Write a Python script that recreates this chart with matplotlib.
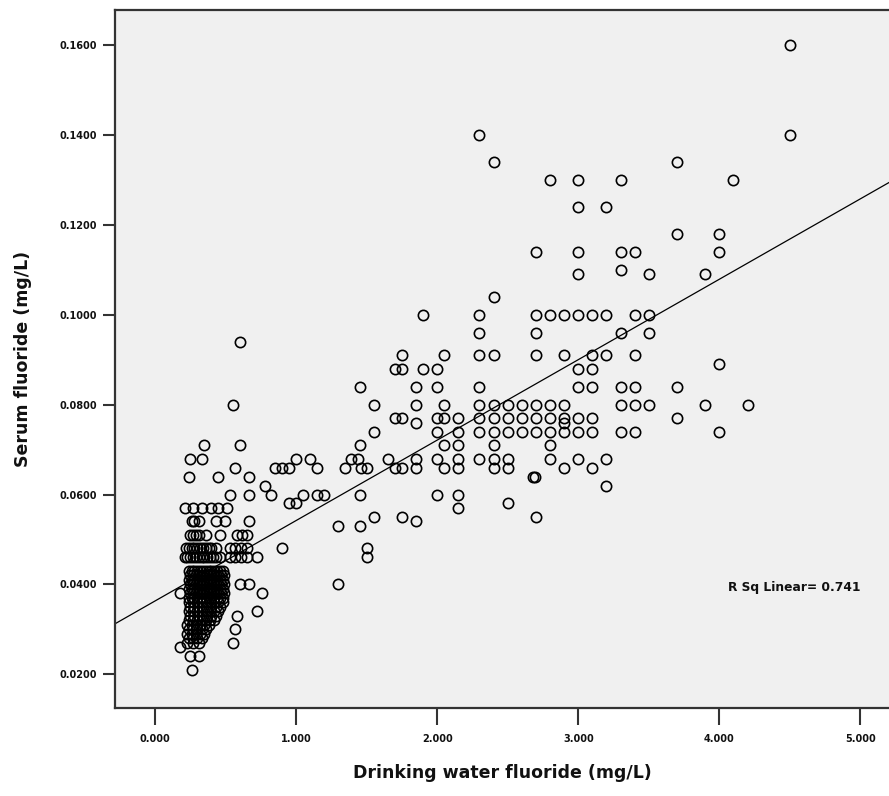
import matplotlib
matplotlib.use("Agg")
import matplotlib.pyplot as plt
import numpy as np

# Serum fluoride levels (mg/L) and the drinking-water fluoride values (mg/L) observed at each level
serum_levels = [0.160, 0.140, 0.134, 0.130, 0.124, 0.118, 0.114, 0.110, 0.109, 0.104,
                0.100, 0.096, 0.094, 0.091, 0.089, 0.088, 0.084, 0.080, 0.077, 0.076,
                0.074, 0.071, 0.068, 0.066, 0.064, 0.062, 0.060, 0.058, 0.057, 0.055,
                0.054, 0.053, 0.051, 0.048, 0.046, 0.043, 0.042, 0.041, 0.040, 0.039,
                0.038, 0.037, 0.036, 0.035, 0.034, 0.033, 0.032, 0.031, 0.030, 0.029,
                0.028, 0.027, 0.026, 0.024, 0.021]

water_at_level = [
    [4.5],
    [2.3, 4.5],
    [2.4, 3.7],
    [2.8, 3.0, 3.3, 4.1],
    [3.0, 3.2],
    [3.7, 4.0],
    [2.7, 3.0, 3.3, 3.4, 4.0],
    [3.3],
    [3.0, 3.5, 3.9],
    [2.4],
    [1.9, 2.3, 2.7, 2.8, 2.9, 3.0, 3.1, 3.2, 3.4, 3.5],
    [2.3, 2.7, 3.3, 3.5],
    [0.6],
    [1.75, 2.05, 2.3, 2.4, 2.7, 2.9, 3.1, 3.2, 3.4],
    [4.0],
    [1.7, 1.75, 1.9, 2.0, 3.0, 3.1],
    [1.45, 1.85, 2.0, 2.3, 3.0, 3.1, 3.3, 3.4, 3.7],
    [0.55, 1.55, 1.85, 2.05, 2.3, 2.4, 2.5, 2.6, 2.7, 2.8, 2.9, 3.3, 3.4, 3.5, 3.9, 4.2],
    [1.7, 1.75, 2.0, 2.05, 2.15, 2.3, 2.4, 2.5, 2.6, 2.7, 2.8, 2.9, 3.0, 3.1, 3.7],
    [1.85, 2.9],
    [1.55, 2.0, 2.15, 2.3, 2.4, 2.5, 2.6, 2.7, 2.8, 2.9, 3.0, 3.1, 3.3, 3.4, 4.0],
    [0.35, 0.6, 1.45, 2.05, 2.15, 2.4, 2.8],
    [0.25, 0.33, 1.0, 1.1, 1.39, 1.44, 1.65, 1.85, 2.0, 2.15, 2.3, 2.4, 2.5, 2.8, 3.0, 3.2],
    [0.57, 0.85, 0.9, 0.95, 1.15, 1.35, 1.46, 1.5, 1.7, 1.75, 1.85, 2.05, 2.15, 2.4, 2.5, 2.9, 3.1],
    [0.24, 0.45, 0.67, 2.68, 2.69],
    [0.78, 3.2],
    [0.53, 0.67, 0.82, 1.05, 1.15, 1.2, 1.45, 2.0, 2.15],
    [0.95, 1.0, 2.5],
    [0.21, 0.27, 0.33, 0.40, 0.45, 0.51, 2.15],
    [1.55, 1.75, 2.7],
    [0.26, 0.28, 0.31, 0.43, 0.50, 0.67, 1.85],
    [1.3, 1.45],
    [0.25, 0.27, 0.29, 0.31, 0.36, 0.46, 0.58, 0.62, 0.65],
    [0.22, 0.24, 0.26, 0.28, 0.30, 0.32, 0.34, 0.36, 0.38, 0.40, 0.43, 0.53, 0.57, 0.61, 0.65, 0.9, 1.5],
    [0.21, 0.23, 0.25, 0.27, 0.29, 0.31, 0.33, 0.35, 0.37, 0.39, 0.41, 0.43, 0.46, 0.53, 0.57, 0.61, 0.65, 0.72, 1.5],
    [0.24, 0.26, 0.28, 0.30, 0.32, 0.34, 0.36, 0.38, 0.40, 0.42, 0.44, 0.46, 0.48],
    [0.25, 0.27, 0.29, 0.31, 0.33, 0.35, 0.37, 0.39, 0.41, 0.43, 0.45, 0.47, 0.49],
    [0.24, 0.26, 0.28, 0.30, 0.32, 0.34, 0.36, 0.38, 0.40, 0.42, 0.44, 0.46, 0.48],
    [0.25, 0.27, 0.29, 0.31, 0.33, 0.35, 0.37, 0.39, 0.41, 0.43, 0.45, 0.47, 0.49, 0.60, 0.67, 1.3],
    [0.24, 0.26, 0.28, 0.30, 0.32, 0.34, 0.36, 0.38, 0.40, 0.42, 0.44, 0.46, 0.48],
    [0.18, 0.25, 0.27, 0.29, 0.31, 0.33, 0.35, 0.37, 0.39, 0.41, 0.43, 0.45, 0.47, 0.49, 0.76],
    [0.24, 0.26, 0.28, 0.30, 0.32, 0.34, 0.36, 0.38, 0.40, 0.42, 0.44, 0.46, 0.48],
    [0.24, 0.27, 0.30, 0.33, 0.36, 0.39, 0.42, 0.45, 0.48],
    [0.25, 0.28, 0.31, 0.34, 0.37, 0.40, 0.43, 0.46],
    [0.24, 0.27, 0.30, 0.33, 0.36, 0.39, 0.42, 0.45, 0.72],
    [0.25, 0.28, 0.31, 0.34, 0.37, 0.40, 0.43, 0.58],
    [0.24, 0.27, 0.30, 0.33, 0.36, 0.39, 0.42],
    [0.23, 0.26, 0.29, 0.32, 0.35, 0.38],
    [0.24, 0.27, 0.30, 0.33, 0.36, 0.57],
    [0.23, 0.26, 0.29, 0.32, 0.35],
    [0.24, 0.27, 0.30, 0.33],
    [0.23, 0.27, 0.31, 0.55],
    [0.18],
    [0.25, 0.31],
    [0.26],
]

# Linear fit as printed on the chart
fit_intercept = 0.0363
fit_slope = 0.0179
r_sq_text = "R Sq Linear= 0.741"

x_ticks = [0.0, 1.0, 2.0, 3.0, 4.0, 5.0]
y_ticks = [0.02, 0.04, 0.06, 0.08, 0.10, 0.12, 0.14, 0.16]

xs, ys = [], []
for lvl, row in zip(serum_levels, water_at_level):
    for w in row:
        xs.append(w)
        ys.append(lvl)

W, H = 889, 796
fig = plt.figure(figsize=(W / 100, H / 100), dpi=100)
fig.patch.set_facecolor("white")
ax = fig.add_axes([115 / W, 1 - 708 / H, (W - 115) / W, (708 - 10) / H])
ax.set_facecolor("#f0f0f0")

xlim = (-0.283, 5.202)
ylim = (0.0125, 0.1678)
ax.set_xlim(*xlim)
ax.set_ylim(*ylim)

ax.plot(xs, ys, linestyle="none", marker="o", markersize=7.4, markerfacecolor="none",
        markeredgecolor="black", markeredgewidth=1.2, zorder=3)

lx = np.array(xlim)
ax.plot(lx, fit_intercept + fit_slope * lx, color="black", linewidth=0.9, zorder=2)

ax.text((728 - 115) / (W - 115), (708 - 587) / (708 - 10), r_sq_text,
        transform=ax.transAxes, fontsize=8.8, fontweight="bold", va="center", ha="left",
        family="DejaVu Sans", color="#111111")

ax.set_xticks(x_ticks)
ax.set_xticklabels([f"{v:.3f}" for v in x_ticks])
ax.set_yticks(y_ticks)
ax.set_yticklabels([f"{v:.4f}" for v in y_ticks])

for s in ["left", "bottom", "top"]:
    ax.spines[s].set_color("#333333")
    ax.spines[s].set_linewidth(1.6)
ax.spines["right"].set_visible(False)

ax.tick_params(axis="x", direction="out", length=12, width=1.5, color="#333333", pad=7,
               labelsize=7, labelcolor="#111111")
ax.tick_params(axis="y", direction="out", length=9, width=1.5, color="#333333", pad=4,
               labelsize=7, labelcolor="#111111")
for lab in ax.get_xticklabels() + ax.get_yticklabels():
    lab.set_fontweight("bold")

ax.set_xlabel("Drinking water fluoride (mg/L)", fontsize=12.5, fontweight="bold",
              color="#111111", labelpad=14)
ax.set_ylabel("Serum fluoride (mg/L)", fontsize=12.5, fontweight="bold",
              color="#111111", labelpad=20)

fig.savefig("out.png", dpi=100)
